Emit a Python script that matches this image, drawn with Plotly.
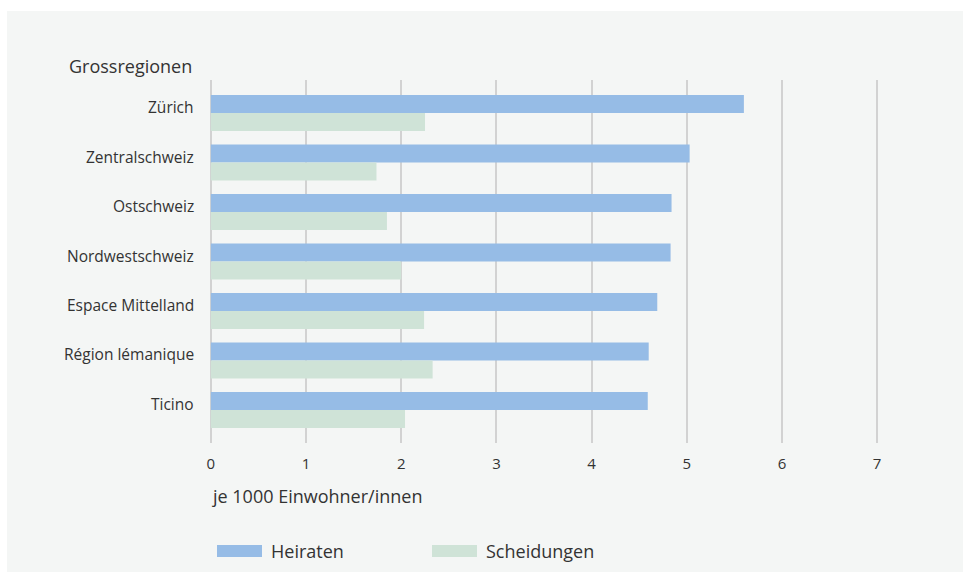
import plotly.graph_objects as go

regions = ["Zürich", "Zentralschweiz", "Ostschweiz", "Nordwestschweiz",
           "Espace Mittelland", "Région lémanique", "Ticino"]
heiraten = [5.60, 5.03, 4.84, 4.83, 4.69, 4.60, 4.59]
scheidungen = [2.25, 1.74, 1.85, 2.00, 2.24, 2.33, 2.04]
series_names = ["Heiraten", "Scheidungen"]
series_colors = ["#96bce6", "#cfe3d7"]
x_ticks = [0, 1, 2, 3, 4, 5, 6, 7]

W, H = 963, 572
L, R, T, B = 208, 880, 80, 443
pw, ph = R - L, B - T

def px(x):
    return (x - L) / pw

def py(y):
    return (B - y) / ph

FONT = "Open Sans"
TXT = "#333333"

fig = go.Figure()
for name, vals, col in zip(series_names, [heiraten, scheidungen], series_colors):
    fig.add_trace(go.Bar(y=regions, x=vals, name=name, orientation="h",
                         marker=dict(color=col, line=dict(width=0)),
                         showlegend=False, hoverinfo="x+y"))

shapes = [dict(type="rect", xref="paper", yref="paper", x0=px(7), x1=px(W + 5),
               y0=py(11), y1=py(H + 5), fillcolor="#f4f6f5", line=dict(width=0),
               layer="below")]
annotations = [
    dict(text="Grossregionen", xref="paper", yref="paper", x=px(67), y=py(66),
         xanchor="left", yanchor="middle", showarrow=False,
         font=dict(family=FONT, size=18, color=TXT)),
    dict(text="je 1000 Einwohner/innen", xref="paper", yref="paper", x=px(210), y=py(496),
         xanchor="left", yanchor="middle", showarrow=False,
         font=dict(family=FONT, size=18, color=TXT)),
]
for r in regions:
    annotations.append(dict(text=r, xref="paper", yref="y", x=px(196), y=r, yshift=6,
                            xanchor="right", yanchor="middle", showarrow=False,
                            font=dict(family=FONT, size=15.5, color=TXT)))
# legend drawn manually
leg_x = [217, 432]
for name, col, lx in zip(series_names, series_colors, leg_x):
    shapes.append(dict(type="rect", xref="paper", yref="paper", x0=px(lx), x1=px(lx + 45),
                       y0=py(557), y1=py(545), fillcolor=col, line=dict(width=0)))
    annotations.append(dict(text=name, xref="paper", yref="paper", x=px(lx + 52), y=py(551),
                            xanchor="left", yanchor="middle", showarrow=False,
                            font=dict(family=FONT, size=18, color=TXT)))

fig.update_layout(
    width=W, height=H,
    margin=dict(l=L, r=W - R, t=T, b=H - B, pad=0),
    paper_bgcolor="white", plot_bgcolor="rgba(0,0,0,0)",
    barmode="group", bargap=0.27, bargroupgap=0,
    shapes=shapes, annotations=annotations,
    xaxis=dict(range=[-0.03, 7.03], tickvals=x_ticks, showgrid=True, gridcolor="#d2d2d2",
               gridwidth=2, zeroline=False, showline=False, ticks="",
               tickfont=dict(family=FONT, size=15, color=TXT), ticklabelstandoff=10),
    yaxis=dict(categoryorder="array", categoryarray=regions, range=[6.667, -0.667],
               showgrid=False, zeroline=False, showline=False, ticks="",
               showticklabels=False),
    showlegend=False,
)
fig.write_html("out.html")
